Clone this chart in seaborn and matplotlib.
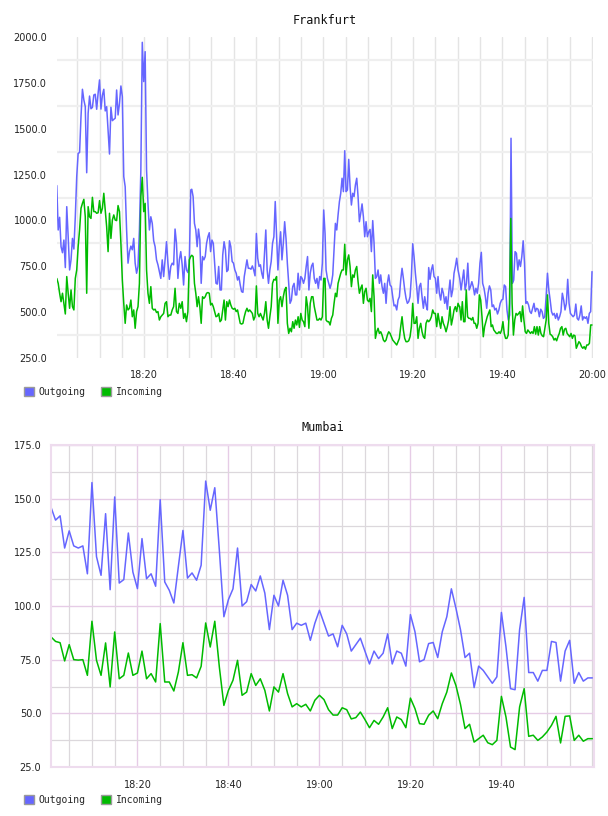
import numpy as np
import pandas as pd
import matplotlib
matplotlib.use("Agg")
import matplotlib.pyplot as plt
import seaborn as sns
from matplotlib.ticker import FixedLocator, FuncFormatter
from matplotlib.patches import Patch

# ---------------- data ----------------
series_names = ["Outgoing", "Incoming"]
colors = {"Outgoing": "#6666ff", "Incoming": "#00bb00"}

# Frankfurt, read in four half-hour segments (minutes after 18:00)
fra_segments = [(0.45, 30.37), (30.6, 60.37), (60.6, 90.37), (90.45, 120.0)]

fra_out_a = [1190, 948, 1017, 857, 824, 893, 743, 1075, 911, 730, 785, 902, 844, 1020, 1239, 1366, 1370, 1566, 1715, 1657,
             1620, 1260, 1584, 1678, 1609, 1616, 1684, 1688, 1606, 1693, 1766, 1607, 1682, 1715, 1597, 1620, 1493, 1362, 1617, 1544,
             1551, 1557, 1711, 1575, 1638, 1733, 1675, 1239, 1184, 948, 767, 830, 860, 840, 902, 767, 712, 749, 948, 1275,
             1971, 1757, 1920, 1275, 1093, 948, 1020, 984, 889, 857, 785, 758, 721, 684, 785, 694, 785, 884, 767, 679,
             749, 767, 758, 953, 875, 684, 785, 830, 758, 648, 803, 730, 716, 767, 1166]
fra_out_b = [1170, 1130, 984, 948, 857, 953, 893, 657, 803, 785, 803, 875, 911, 933, 830, 893, 875, 767, 657, 653,
             749, 621, 621, 812, 884, 839, 721, 730, 889, 857, 776, 767, 730, 712, 675, 694, 648, 612, 608, 694,
             739, 785, 739, 739, 734, 752, 730, 698, 929, 794, 749, 758, 712, 684, 812, 948, 730, 657, 730, 776,
             875, 911, 1103, 911, 730, 857, 938, 785, 875, 993, 902, 767, 657, 548, 566, 639, 657, 594, 594, 712,
             621, 694, 684, 657, 684, 749, 803, 621, 712, 752, 767, 684, 657, 684, 630, 694, 675, 767, 1057, 929]
fra_out_c = [730, 684, 657, 630, 657, 703, 839, 984, 948, 1030, 1102, 1148, 1230, 1157, 1380, 1157, 1166, 1333, 1184, 1084,
             1148, 1130, 1193, 1230, 1130, 993, 1039, 1090, 1020, 911, 993, 911, 938, 951, 830, 999, 875, 684, 694, 730,
             657, 703, 639, 603, 657, 548, 657, 703, 648, 639, 584, 534, 539, 512, 566, 584, 675, 739, 684, 621,
             575, 548, 557, 584, 694, 873, 803, 712, 639, 548, 639, 657, 584, 521, 584, 539, 512, 743, 679, 730,
             758, 694, 684, 603, 694, 603, 566, 630, 603, 548, 584, 516, 603, 675, 584, 621, 712, 749, 794, 730, 694]
fra_out_d = [684, 621, 675, 730, 621, 657, 767, 621, 639, 666, 639, 594, 630, 603, 657, 767, 826, 657, 630, 584,
             521, 603, 643, 621, 530, 539, 512, 521, 490, 512, 548, 566, 570, 648, 639, 512, 457, 484, 1448, 657,
             675, 830, 821, 730, 785, 749, 803, 889, 767, 548, 557, 539, 503, 493, 521, 548, 503, 521, 516, 475,
             516, 503, 466, 475, 584, 712, 621, 566, 503, 484, 493, 466, 493, 457, 475, 503, 603, 566, 512, 548,
             679, 548, 493, 484, 475, 484, 544, 466, 457, 484, 534, 457, 475, 466, 475, 439, 493, 503, 721]

fra_in_a = [684, 657, 603, 557, 603, 548, 490, 694, 603, 521, 621, 530, 512, 684, 730, 857, 948, 1066, 1093, 1115,
            1020, 603, 1075, 1020, 1011, 1126, 1048, 1048, 1039, 1042, 1108, 1039, 1066, 1148, 1057, 966, 830, 1039, 902, 1002,
            1030, 1002, 999, 1081, 1048, 875, 675, 548, 439, 539, 512, 521, 566, 475, 512, 412, 503, 530, 657, 1130,
            1235, 1048, 1093, 730, 603, 548, 639, 521, 512, 516, 498, 503, 457, 475, 484, 493, 548, 557, 475, 484,
            484, 512, 530, 630, 503, 493, 548, 521, 557, 466, 493, 448, 503, 785, 803]
fra_in_b = [810, 803, 657, 603, 530, 584, 530, 439, 584, 575, 584, 603, 607, 603, 539, 548, 530, 503, 475, 479,
            493, 448, 457, 512, 566, 457, 557, 530, 566, 539, 521, 516, 521, 503, 512, 475, 439, 435, 439, 475,
            503, 521, 503, 512, 503, 493, 457, 475, 643, 493, 475, 493, 475, 457, 493, 557, 457, 412, 475, 530,
            657, 679, 675, 694, 439, 566, 584, 530, 584, 621, 635, 439, 384, 412, 393, 448, 412, 457, 430, 475,
            417, 493, 457, 448, 421, 584, 530, 412, 548, 584, 584, 530, 493, 457, 457, 466, 457, 475, 684, 684]
fra_in_c = [457, 448, 448, 430, 466, 484, 548, 603, 584, 657, 684, 712, 730, 730, 870, 703, 785, 812, 749, 639,
            703, 690, 730, 749, 666, 603, 630, 648, 548, 612, 630, 566, 557, 575, 503, 703, 584, 357, 393, 412,
            384, 393, 375, 348, 339, 348, 375, 393, 384, 366, 348, 339, 330, 321, 339, 357, 421, 475, 403, 357,
            339, 339, 344, 366, 421, 548, 439, 439, 475, 357, 412, 439, 393, 366, 357, 439, 457, 448, 457, 475,
            512, 493, 493, 421, 493, 448, 412, 475, 439, 421, 393, 421, 457, 530, 430, 466, 512, 530, 503, 548, 530]
fra_in_d = [530, 457, 557, 448, 448, 621, 475, 466, 466, 457, 471, 439, 439, 412, 439, 594, 566, 475, 366, 421,
            448, 475, 493, 512, 421, 430, 403, 393, 384, 384, 393, 384, 403, 448, 384, 357, 357, 375, 548, 1011,
            548, 375, 457, 493, 484, 493, 503, 448, 534, 457, 393, 384, 403, 393, 384, 393, 384, 421, 380, 421,
            375, 421, 384, 371, 366, 412, 457, 594, 439, 380, 375, 366, 348, 357, 344, 366, 384, 412, 421, 375,
            407, 412, 384, 375, 366, 384, 357, 375, 371, 303, 321, 339, 330, 312, 303, 312, 298, 321, 321, 330, 430, 430]

# Mumbai, one sample per minute from 18:01 to 20:00
mum_minutes = list(range(1, 121))
mum_out = [146, 140, 142, 127, 135, 128, 127, 128, 115, 157.5, 123, 114.3, 143, 107.6, 150.8, 110.7, 112.3, 134, 115.8, 108.1,
           131.4, 112.7, 115, 109.2, 149.5, 111.2, 107.3, 101.4, 118.5, 135.2, 113, 115.4, 112, 119, 158.2, 144.6, 155.1, 126, 95, 103,
           108, 127, 100, 102, 110, 107, 114, 106, 89, 105, 100, 112, 105, 89, 92, 91, 92, 84, 92, 98,
           92, 86, 87, 81, 91, 87, 79, 82, 85, 79, 73, 79, 75.5, 78, 87, 73, 79, 78, 72, 96,
           88, 74, 75, 82.5, 83, 76, 88, 95, 108, 99, 89, 76, 78, 62, 72, 70, 67, 64, 67, 97,
           81, 61.5, 61, 89, 104, 69, 69, 65, 70, 70, 83.5, 83, 65, 79, 84, 64, 69, 65, 66.5, 66.5]
mum_in = [85.6, 83.5, 82.9, 74.4, 82, 75, 74.8, 75, 67.7, 92.9, 74.7, 67.7, 82.8, 62.3, 87.9, 66.1, 67.7, 78.1, 67.7, 68.8,
          79, 66.1, 68.5, 64.6, 91.8, 64.6, 64.6, 60.4, 69.3, 82.9, 67.7, 68, 66.5, 71.9, 92.1, 80.9, 92.9, 71.6, 53.7, 60.7,
          65.4, 74.7, 58.4, 59.9, 68.5, 63, 66.1, 60.7, 51.1, 62.3, 59.9, 68.5, 59.2, 53, 54.5, 53, 54.2, 51.1, 56.1, 58.4,
          56.4, 51.7, 49.2, 49.2, 52.6, 51.7, 47.4, 48, 50.6, 47.1, 43.3, 46.7, 44.9, 48.3, 52.6, 42.9, 48.3, 47.1, 43.3, 57.1,
          52.2, 45.2, 44.9, 49.1, 51.1, 47.5, 54.5, 59.9, 68.8, 63, 54.2, 42.9, 44.9, 36.6, 38.2, 39.8, 36.3, 35.4, 37.4, 57.9,
          48.3, 34.3, 33.1, 53, 61.5, 39.3, 39.8, 37.4, 39, 41.3, 44.4, 48.6, 36.2, 48.6, 48.8, 37.4, 39.8, 37, 38.2, 38.2]

fra_yticks = [250, 500, 750, 1000, 1250, 1500, 1750, 2000]
mum_yticks = [25, 50, 75, 100, 125, 150, 175]
time_ticks = [20, 40, 60, 80, 100, 120]


def seg_times(segs):
    parts = [np.linspace(a, b, len(v)) for (a, b), v in zip(fra_segments, segs)]
    return np.concatenate(parts), np.concatenate([np.asarray(v, float) for v in segs])


t_out, v_out = seg_times([fra_out_a, fra_out_b, fra_out_c, fra_out_d])
t_in, v_in = seg_times([fra_in_a, fra_in_b, fra_in_c, fra_in_d])
fra = pd.concat([
    pd.DataFrame({"minute": t_out, "value": v_out, "series": "Outgoing"}),
    pd.DataFrame({"minute": t_in, "value": v_in, "series": "Incoming"}),
])
mum = pd.concat([
    pd.DataFrame({"minute": mum_minutes, "value": mum_out, "series": "Outgoing"}),
    pd.DataFrame({"minute": mum_minutes, "value": mum_in, "series": "Incoming"}),
])

# ---------------- drawing ----------------
sns.set_theme(style="white")
plt.rcParams["font.family"] = ["DejaVu Sans"]

W, H = 608, 816
fig = plt.figure(figsize=(W / 100, H / 100), dpi=100)
ax1 = fig.add_axes([57 / W, 1 - 358 / H, 536 / W, 321 / H])
ax2 = fig.add_axes([51 / W, 1 - 767 / H, 543 / W, 322 / H])

for ax, df in ((ax1, fra), (ax2, mum)):
    sns.lineplot(data=df, x="minute", y="value", hue="series", hue_order=series_names,
                 palette=colors, estimator=None, sort=False, linewidth=1.1,
                 legend=False, ax=ax)
    ax.set_xlabel("")
    ax.set_ylabel("")
    ax.set_axisbelow(True)
    ax.xaxis.set_major_formatter(FuncFormatter(lambda m, p: f"{18 + int(round(m)) // 60}:{int(round(m)) % 60:02d}"))
    ax.yaxis.set_major_formatter(FuncFormatter(lambda v, p: f"{v:.1f}"))
    ax.tick_params(axis="both", which="both", length=0, labelsize=7, colors="#222222")
    ax.tick_params(axis="y", pad=7)
    ax.tick_params(axis="x", pad=9)

# Frankfurt styling
ax1.set_xlim(0.5, 120.22)
ax1.set_ylim(250, 2000)
ax1.xaxis.set_major_locator(FixedLocator(time_ticks))
ax1.xaxis.set_minor_locator(FixedLocator(list(range(5, 121, 5))))
ax1.yaxis.set_major_locator(FixedLocator(fra_yticks))
ax1.yaxis.set_minor_locator(FixedLocator([y + 125 for y in fra_yticks[:-1]]))
ax1.grid(True, axis="x", which="both", color="#e4e4e4", linewidth=1.0)
ax1.grid(True, axis="y", which="minor", color="#efefef", linewidth=1.6)
ax1.grid(False, axis="y", which="major")
for s in ax1.spines.values():
    s.set_visible(False)
ax1.set_title("Frankfurt", fontsize=8.5, family="DejaVu Sans Mono", color="#111111", pad=9)

# Mumbai styling
ax2.set_xlim(1, 120.35)
ax2.set_ylim(25, 175)
ax2.xaxis.set_major_locator(FixedLocator(time_ticks[:-1]))
ax2.xaxis.set_minor_locator(FixedLocator(list(range(5, 121, 5))))
ax2.yaxis.set_major_locator(FixedLocator(mum_yticks))
ax2.yaxis.set_minor_locator(FixedLocator([y + 12.5 for y in mum_yticks[:-1]]))
ax2.grid(True, axis="both", which="minor", color="#dcd8dc", linewidth=0.9)
ax2.grid(True, axis="both", which="major", color="#e6cce6", linewidth=1.0)
for s in ax2.spines.values():
    s.set_visible(True)
    s.set_color("#eedcee")
    s.set_linewidth(1.5)
ax2.set_title("Mumbai", fontsize=8.5, family="DejaVu Sans Mono", color="#111111", pad=10)

# legends below each chart
handles = [Patch(facecolor=colors[n], edgecolor="#9a9a9a", linewidth=1.0, label=n) for n in series_names]
for ycen in (392, 800):
    fig.legend(handles=handles, loc="center left", bbox_to_anchor=(24 / W, 1 - ycen / H),
               ncol=2, frameon=False, borderpad=0, borderaxespad=0,
               handlelength=1.0, handleheight=1.0, handletextpad=0.5, columnspacing=1.6,
               prop={"family": "DejaVu Sans Mono", "size": 7})

fig.savefig("out.png", dpi=100)
